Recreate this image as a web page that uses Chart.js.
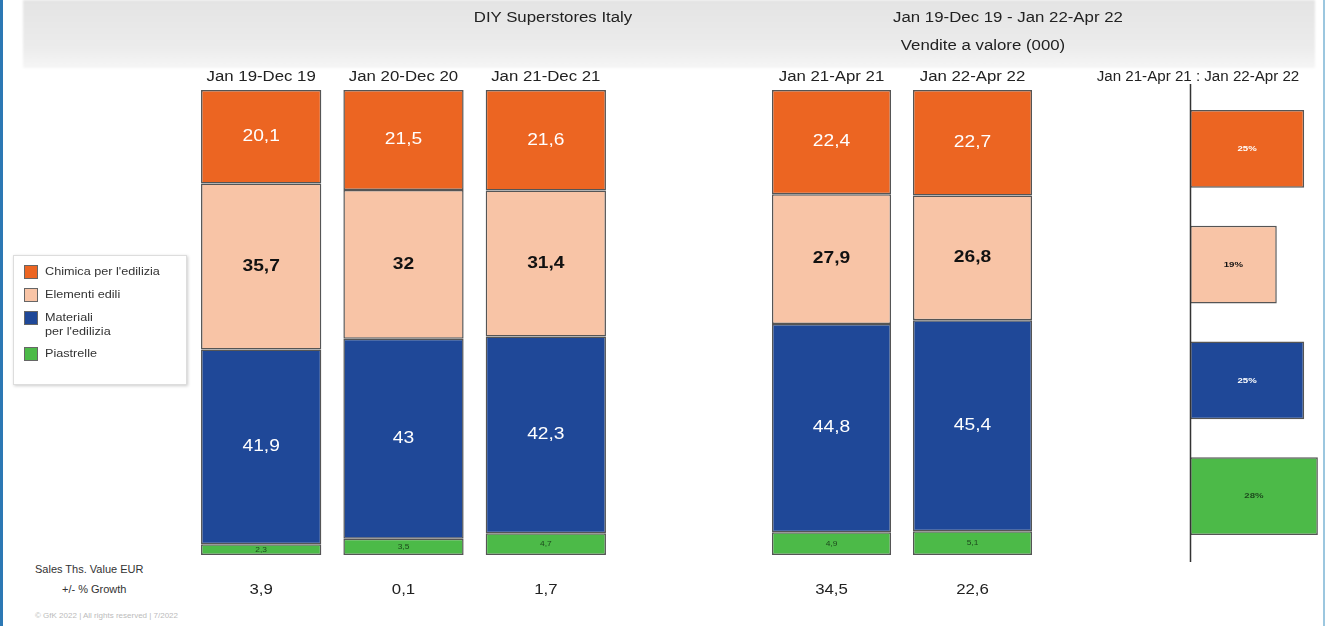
<!DOCTYPE html>
<html>
<head>
<meta charset="utf-8">
<script src="https://cdn.jsdelivr.net/npm/chart.js@4/dist/chart.umd.min.js"></script>
<style>
  body { margin: 0; background: #fff; font-family: "Liberation Sans", Arial, sans-serif; }
  #page { position: relative; width: 1325px; height: 626px; overflow: hidden; background: #fff;
          border-left: 3px solid #2c78b4; border-right: 2px solid #9cc7df; box-sizing: border-box; }
  #band { position: absolute; left: 20px; top: 0; width: 1292px; height: 68px;
          background: linear-gradient(#e4e4e4, #ececec 70%, #f6f6f6); filter: blur(1px); }
  .title { position: absolute; font-size: 14px; color: #222; text-align: center; transform: scaleX(1.2); }
  canvas { position: absolute; }
  #legend { position: absolute; left: 10px; top: 255px; width: 172px; height: 128px;
            border: 1px solid #ddd; box-shadow: 1px 1px 3px #ccc; background: #fff;
            font-size: 11px; color: #333; }
  #legend div { display: flex; align-items: flex-start; margin: 8px 0 0 10px; line-height: 14px; }
  #legend span.box { width: 12px; height: 12px; border: 1px solid #666; margin: 1px 7px 0 0; flex: none; }
  #legend span.txt { display: inline-block; transform: scaleX(1.15); transform-origin: left; white-space: nowrap; }
  .side { position: absolute; font-size: 11px; color: #333; }
</style>
</head>
<body>
<div id="page">
  <div id="band"></div>
  <div class="title" style="left:450px;top:9px;width:200px;">DIY Superstores Italy</div>
  <div class="title" style="left:905px;top:9px;width:200px;">Jan 19-Dec 19 - Jan 22-Apr 22</div>
  <div class="title" style="left:880px;top:37px;width:200px;">Vendite a valore (000)</div>
  <div class="title" style="left:1075px;top:68px;width:240px;font-size:14px;transform:scaleX(1.08);">Jan 21-Apr 21 : Jan 22-Apr 22</div>
  <canvas id="left" width="427" height="545" style="left:187px;top:60px;"></canvas>
  <canvas id="mid" width="282" height="545" style="left:758px;top:60px;"></canvas>
  <canvas id="right" width="138" height="478" style="left:1186px;top:84px;"></canvas>
  <div id="legend"></div>
  <div class="side" style="left:32px;top:563px;">Sales Ths. Value EUR</div>
  <div class="side" style="left:59px;top:583px;">+/- % Growth</div>
  <div class="side" style="left:32px;top:611px;font-size:8px;color:#bbb;">© GfK 2022 | All rights reserved | 7/2022</div>
</div>
<script>
// bars: three full years, then two Jan-Apr periods
let periods = ['Jan 19-Dec 19', 'Jan 20-Dec 20', 'Jan 21-Dec 21'];
let ytdPeriods = ['Jan 21-Apr 21', 'Jan 22-Apr 22'];
let chimica = [20.1, 21.5, 21.6, 22.4, 22.7];
let elementi = [35.7, 32, 31.4, 27.9, 26.8];
let materiali = [41.9, 43, 42.3, 44.8, 45.4];
let piastrelle = [2.3, 3.5, 4.7, 4.9, 5.1];
let growth = [3.9, 0.1, 1.7, 34.5, 22.6];
// Jan 21-Apr 21 : Jan 22-Apr 22 growth by category (%)
let catGrowth = [25, 19, 25, 28];

let names = ['Chimica per l\'edilizia', 'Elementi edili', 'Materiali\nper l\'edilizia', 'Piastrelle'];
let color = ['rgb(236, 101, 34)', 'rgb(248, 196, 166)', 'rgb(31, 72, 152)', 'rgb(76, 186, 72)'];
let labelColor = ['#fff', '#111', '#fff', '#1d4a1d'];
let series = [chimica, elementi, materiali, piastrelle];

function fmt(v) { return String(v).replace('.', ','); }

// draw text stretched a bit wider, like the original export
function wideText(ctx, s, x, y, sx) {
  ctx.save();
  ctx.translate(x, y);
  ctx.scale(sx, 1);
  ctx.fillText(s, 0, 0);
  ctx.restore();
}

let labelPlugin = {
  id: 'barLabels',
  afterDatasetsDraw(chart) {
    let ctx = chart.ctx;
    ctx.save();
    ctx.textAlign = 'center';
    ctx.textBaseline = 'middle';
    chart.data.datasets.forEach((ds, i) => {
      chart.getDatasetMeta(i).data.forEach((bar, j) => {
        let v = ds.data[j];
        let small = ds.idx === 3;
        ctx.fillStyle = labelColor[ds.idx];
        ctx.font = (ds.idx === 1 ? 'bold ' : '') + (small ? '7px' : '16px') + ' "Liberation Sans", Arial';
        wideText(ctx, fmt(v), bar.x, (bar.y + bar.base) / 2, 1.2);
      });
    });
    let opts = chart.options.plugins.barLabels;
    chart.scales.x.ticks.forEach((t, j) => {
      let x = chart.scales.x.getPixelForTick(j);
      ctx.fillStyle = '#222';
      ctx.font = '14px "Liberation Sans", Arial';
      wideText(ctx, chart.data.labels[j], x, chart.chartArea.top - 13, 1.2);
      ctx.font = '14px "Liberation Sans", Arial';
      wideText(ctx, fmt(opts.growth[j]), x, chart.chartArea.bottom + 35, 1.2);
    });
    ctx.restore();
  }
};

function stacked(id, labels, from, to) {
  let order = [3, 2, 1, 0];
  new Chart(document.getElementById(id), {
    type: 'bar',
    data: {
      labels: labels,
      datasets: order.map(k => ({
        idx: k,
        label: names[k],
        data: series[k].slice(from, to),
        backgroundColor: color[k],
        borderColor: '#555',
        borderWidth: 1.5,
        borderSkipped: false,
        categoryPercentage: 1,
        barPercentage: 0.845
      }))
    },
    options: {
      responsive: false,
      animation: false,
      layout: { padding: { top: 30, bottom: 50, left: 0, right: 0 } },
      scales: {
        x: { stacked: true, display: false },
        y: { stacked: true, display: false, min: 0, max: 100 }
      },
      plugins: {
        legend: { display: false },
        tooltip: { enabled: false },
        barLabels: { growth: growth.slice(from, to) }
      }
    },
    plugins: [labelPlugin]
  });
}
stacked('left', periods, 0, 3);
stacked('mid', ytdPeriods, 3, 5);

new Chart(document.getElementById('right'), {
  type: 'bar',
  data: {
    labels: names,
    datasets: [{
      data: catGrowth,
      backgroundColor: color,
      borderColor: '#555',
      borderWidth: 1.5,
      borderSkipped: false,
      categoryPercentage: 1,
      barPercentage: 0.67
    }]
  },
  options: {
    indexAxis: 'y',
    responsive: false,
    animation: false,
    layout: { padding: { top: 7, bottom: 8, left: 1, right: 0 } },
    scales: {
      x: { display: false, min: 0, max: 30 },
      y: { display: false }
    },
    plugins: { legend: { display: false }, tooltip: { enabled: false } }
  },
  plugins: [{
    id: 'growthLabels',
    afterDatasetsDraw(chart) {
      let ctx = chart.ctx;
      ctx.save();
      ctx.strokeStyle = '#333';
      ctx.lineWidth = 1.5;
      ctx.beginPath();
      ctx.moveTo(1.5, 0);
      ctx.lineTo(1.5, chart.height);
      ctx.stroke();
      ctx.textAlign = 'center';
      ctx.textBaseline = 'middle';
      ctx.font = 'bold 8px "Liberation Sans", Arial';
      chart.getDatasetMeta(0).data.forEach((bar, j) => {
        ctx.fillStyle = labelColor[j];
        wideText(ctx, catGrowth[j] + '%', (bar.x + bar.base) / 2, bar.y, 1.2);
      });
      ctx.restore();
    }
  }]
});

let legendBox = document.getElementById('legend');
[0, 1, 2, 3].forEach(k => {
  let row = document.createElement('div');
  row.innerHTML = '<span class="box" style="background:' + color[k] + '"></span><span class="txt">' +
    names[k].replace('\n', '<br>') + '</span>';
  legendBox.appendChild(row);
});
</script>
</body>
</html>
